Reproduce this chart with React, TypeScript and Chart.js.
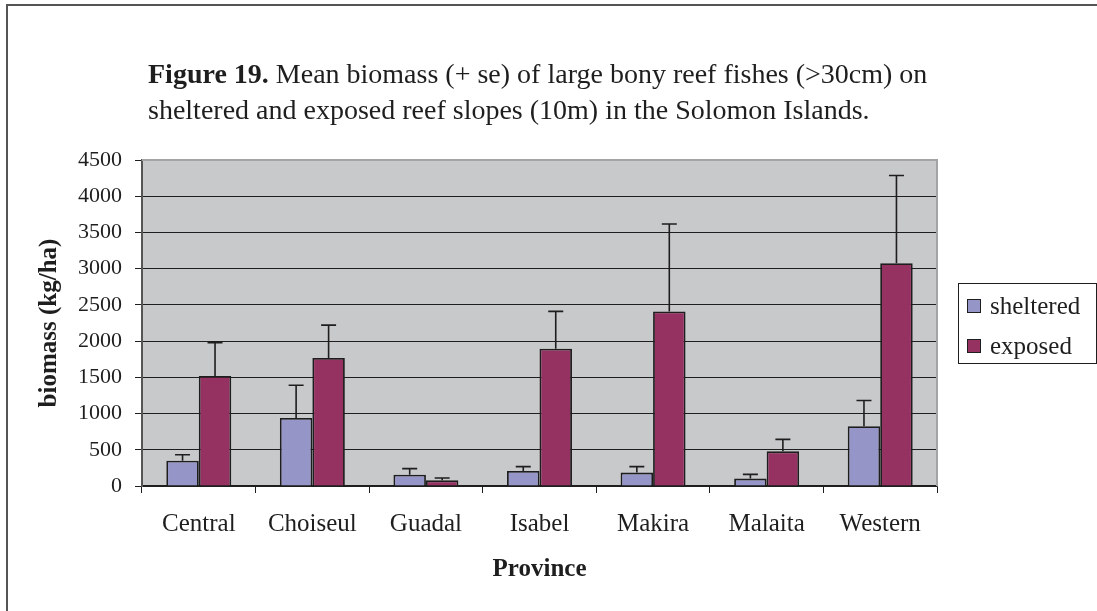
import React, { useEffect, useRef } from "react";
import { Chart, registerables } from "chart.js";

Chart.register(...registerables);

const categories = ["Central", "Choiseul", "Guadal", "Isabel", "Makira", "Malaita", "Western"];
const sheltered = [348, 940, 157, 207, 185, 102, 826];
const shelteredSE = [83, 451, 83, 60, 82, 59, 354];
const exposed = [1519, 1767, 78, 1896, 2410, 478, 3075];
const exposedSE = [460, 454, 32, 514, 1207, 165, 1212];
const yTicks = [0, 500, 1000, 1500, 2000, 2500, 3000, 3500, 4000, 4500];

const SHELTERED_COLOR = "#9595c8";
const EXPOSED_COLOR = "#953262";
const FONT = "'Liberation Serif', 'Times New Roman', serif";

const plotBackground = {
  id: "plotBackground",
  beforeDraw(chart: any) {
    const { ctx, chartArea } = chart;
    ctx.save();
    ctx.fillStyle = "#c8c9cb";
    ctx.fillRect(chartArea.left, chartArea.top, chartArea.right - chartArea.left, chartArea.bottom - chartArea.top);
    ctx.restore();
  },
  afterDatasetsDraw(chart: any) {
    const { ctx, chartArea } = chart;
    ctx.save();
    ctx.strokeStyle = "#a3a4a6";
    ctx.lineWidth = 2;
    ctx.beginPath();
    ctx.moveTo(chartArea.left, chartArea.top);
    ctx.lineTo(chartArea.right, chartArea.top);
    ctx.lineTo(chartArea.right, chartArea.bottom);
    ctx.stroke();
    ctx.restore();
  },
};

const errorBars = {
  id: "errorBars",
  afterDatasetsDraw(chart: any) {
    const { ctx } = chart;
    const yScale = chart.scales.y;
    const seLists = [shelteredSE, exposedSE];
    ctx.save();
    ctx.strokeStyle = "#1e1e1e";
    ctx.lineWidth = 1.6;
    chart.data.datasets.forEach((ds: any, di: number) => {
      const meta = chart.getDatasetMeta(di);
      meta.data.forEach((bar: any, i: number) => {
        const v = ds.data[i];
        const top = yScale.getPixelForValue(v + seLists[di][i]);
        const x = bar.x;
        ctx.beginPath();
        ctx.moveTo(x, bar.y);
        ctx.lineTo(x, top);
        ctx.moveTo(x - 7.5, top);
        ctx.lineTo(x + 7.5, top);
        ctx.stroke();
      });
    });
    ctx.restore();
  },
};

export default function App() {
  const canvasRef = useRef<HTMLCanvasElement | null>(null);

  useEffect(() => {
    document.body.style.margin = "0";
    const canvas = canvasRef.current;
    if (!canvas) return;
    const chart = new Chart(canvas, {
      type: "bar",
      data: {
        labels: categories,
        datasets: [
          {
            label: "sheltered",
            data: sheltered,
            backgroundColor: SHELTERED_COLOR,
            borderColor: "#1e1e1e",
            borderWidth: 1.8,
            categoryPercentage: 0.572,
            barPercentage: 1.0,
          },
          {
            label: "exposed",
            data: exposed,
            backgroundColor: EXPOSED_COLOR,
            borderColor: "#1e1e1e",
            borderWidth: 1.8,
            categoryPercentage: 0.572,
            barPercentage: 1.0,
          },
        ],
      },
      options: {
        responsive: false,
        animation: false,
        layout: { padding: { top: 160, right: 160, bottom: 0, left: 0 } },
        plugins: {
          legend: { display: false },
          tooltip: { enabled: false },
          title: { display: false },
        },
        scales: {
          x: {
            offset: true,
            grid: {
              offset: true,
              drawOnChartArea: false,
              drawTicks: true,
              tickLength: 7,
              color: "#1e1e1e",
              lineWidth: 1,
            },
            border: { color: "#1e1e1e", width: 1.5 },
            ticks: {
              color: "#1e1e1e",
              padding: 16,
              font: { family: FONT, size: 25 },
              maxRotation: 0,
            },
            title: {
              display: true,
              text: "Province",
              color: "#1e1e1e",
              font: { family: FONT, size: 25, weight: "bold" },
              padding: { top: 0, bottom: 26 },
            },
            afterFit(scale: any) {
              scale.height = 125;
            },
          },
          y: {
            min: 0,
            max: 4500,
            afterBuildTicks(scale: any) {
              scale.ticks = yTicks.map((v) => ({ value: v }));
            },
            grid: {
              color: "#1e1e1e",
              lineWidth: 1,
              tickLength: 7,
              drawTicks: true,
            },
            border: { color: "#555555", width: 2 },
            ticks: {
              color: "#1e1e1e",
              padding: 13,
              font: { family: FONT, size: 22 },
              callback: (value: any) => String(value),
            },
            title: {
              display: true,
              text: "biomass (kg/ha)",
              color: "#1e1e1e",
              font: { family: FONT, size: 25, weight: "bold" },
              padding: { top: 35, bottom: 0 },
            },
            afterFit(scale: any) {
              scale.width = 142;
            },
          },
        },
      },
      plugins: [plotBackground, errorBars],
    });
    return () => chart.destroy();
  }, []);

  const legendItems = [
    { label: "sheltered", color: SHELTERED_COLOR },
    { label: "exposed", color: EXPOSED_COLOR },
  ];

  return (
    <div style={{ position: "relative", width: 1097, height: 611, background: "#fff", overflow: "hidden", fontFamily: FONT }}>
      <canvas ref={canvasRef} width={1097} height={611} style={{ position: "absolute", left: 0, top: 0, width: 1097, height: 611 }} />
      <div
        style={{
          position: "absolute",
          left: 6,
          top: 4,
          width: 1097,
          height: 611,
          borderLeft: "2px solid #555",
          borderTop: "2px solid #555",
          pointerEvents: "none",
        }}
      />
      <div
        style={{
          position: "absolute",
          left: 148,
          top: 56,
          fontSize: 28,
          lineHeight: "36px",
          color: "#1e1e1e",
          whiteSpace: "nowrap",
        }}
      >
        <div>
          <b>Figure 19.</b> Mean biomass (+ se) of large bony reef fishes (&gt;30cm) on
        </div>
        <div>sheltered and exposed reef slopes (10m) in the Solomon Islands.</div>
      </div>
      <div
        style={{
          position: "absolute",
          left: 958,
          top: 283,
          width: 137,
          height: 79,
          border: "1px solid #1e1e1e",
          background: "#fff",
        }}
      >
        {legendItems.map((it, i) => (
          <div
            key={it.label}
            style={{
              position: "absolute",
              left: 8,
              top: 22 + i * 40 - 15,
              height: 30,
              display: "flex",
              alignItems: "center",
              whiteSpace: "nowrap",
            }}
          >
            <span
              style={{
                display: "inline-block",
                width: 12,
                height: 12,
                background: it.color,
                border: "1.5px solid #1e1e1e",
                marginRight: 9,
              }}
            />
            <span style={{ fontSize: 25, color: "#1e1e1e" }}>{it.label}</span>
          </div>
        ))}
      </div>
    </div>
  );
}
